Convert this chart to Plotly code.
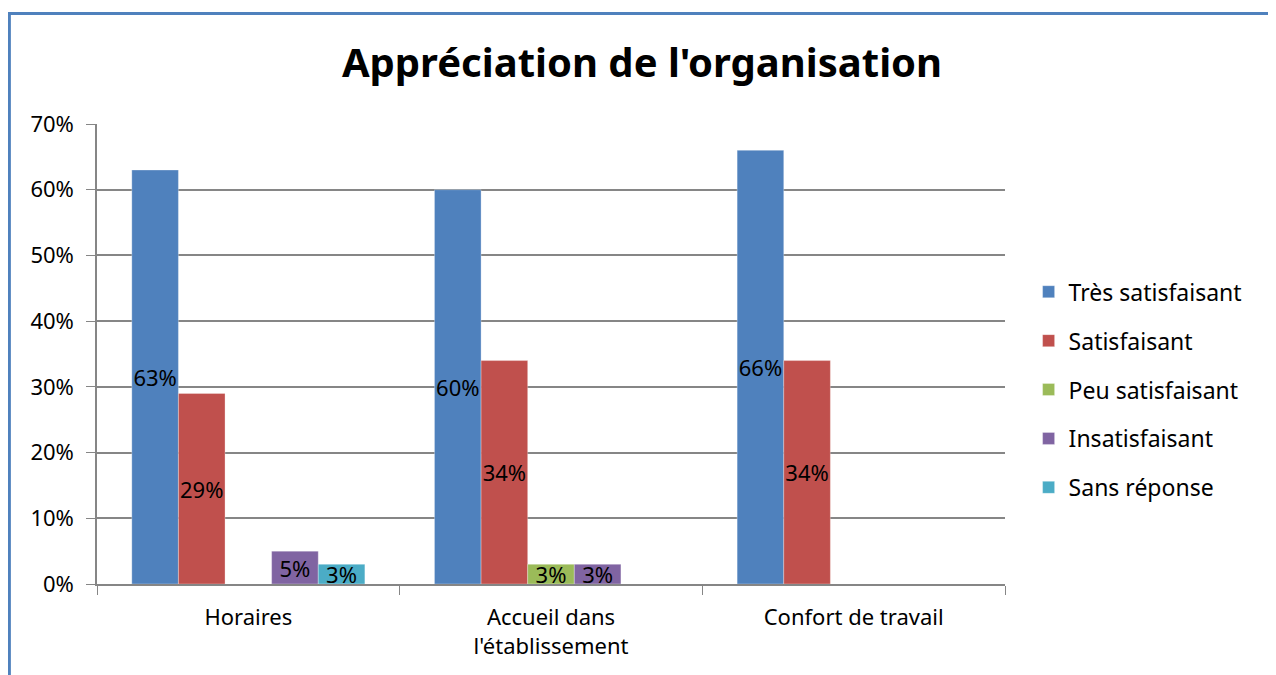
import plotly.graph_objects as go

categories = ["Horaires", "Accueil dans<br>l'établissement", "Confort de travail"]
series_names = ["Très satisfaisant", "Satisfaisant", "Peu satisfaisant", "Insatisfaisant", "Sans réponse"]
tres_satisfaisant = [0.63, 0.60, 0.66]
satisfaisant = [0.29, 0.34, 0.34]
peu_satisfaisant = [None, 0.03, None]
insatisfaisant = [0.05, 0.03, None]
sans_reponse = [0.03, None, None]
colors = ["#4F81BD", "#C0504D", "#9BBB59", "#8064A2", "#4BACC6"]
y_ticks = [0, 0.1, 0.2, 0.3, 0.4, 0.5, 0.6, 0.7]

FONT = "Noto Sans"
fig = go.Figure()
for i, (name, vals) in enumerate(zip(series_names, [tres_satisfaisant, satisfaisant, peu_satisfaisant, insatisfaisant, sans_reponse])):
    fig.add_trace(go.Bar(
        name=name, x=categories, y=vals,
        marker=dict(color=colors[i], line=dict(width=0.6, color="rgba(255,255,255,0.5)")),
        text=[f"{v*100:.0f}%" if v is not None else None for v in vals],
        textposition="inside", insidetextanchor="middle", constraintext="none", textangle=0,
        textfont=dict(family=FONT, size=22, color="black"),
        legendgroup=str(i),
    ))

# page has an 8px body margin: figure is drawn at (8, 8)
fig.update_layout(
    width=1268, height=667,
    margin=dict(l=89, r=271, t=116, b=91),
    paper_bgcolor="white", plot_bgcolor="white",
    barmode="group", bargap=0.23, bargroupgap=0,
    title=dict(text="<b>Appréciation de l'organisation</b>", x=0.5, xanchor="center", y=0.918, yanchor="middle",
               font=dict(family=FONT, size=40, color="black")),
    legend=dict(x=1.026, xanchor="left", y=0.682, yanchor="top", traceorder="grouped", tracegroupgap=16,
                font=dict(family=FONT, size=23, color="black"), itemwidth=30),
    showlegend=True,
)
fig.update_yaxes(range=[0, 0.7], tickvals=y_ticks, tickformat=".0%", showgrid=True, gridcolor="#868686", gridwidth=1.5,
                 showline=True, linecolor="#868686", linewidth=1.5, ticks="outside", ticklen=9, tickcolor="#868686",
                 ticklabelstandoff=8,
                 tickfont=dict(family=FONT, size=22, color="black"), zeroline=False)
fig.update_xaxes(showline=True, linecolor="#868686", linewidth=1.5, ticks="outside", ticklen=9, tickcolor="#868686",
                 tickson="boundaries", ticklabelstandoff=13, tickfont=dict(family=FONT, size=22, color="black"))

fig.add_shape(type="rect", xref="paper", yref="paper", x0=-0.0965, x1=1.2968, y0=-0.25, y1=1.240,
              line=dict(color="#4F81BD", width=3), fillcolor="rgba(0,0,0,0)", layer="above")

fig.write_html("out.html")
